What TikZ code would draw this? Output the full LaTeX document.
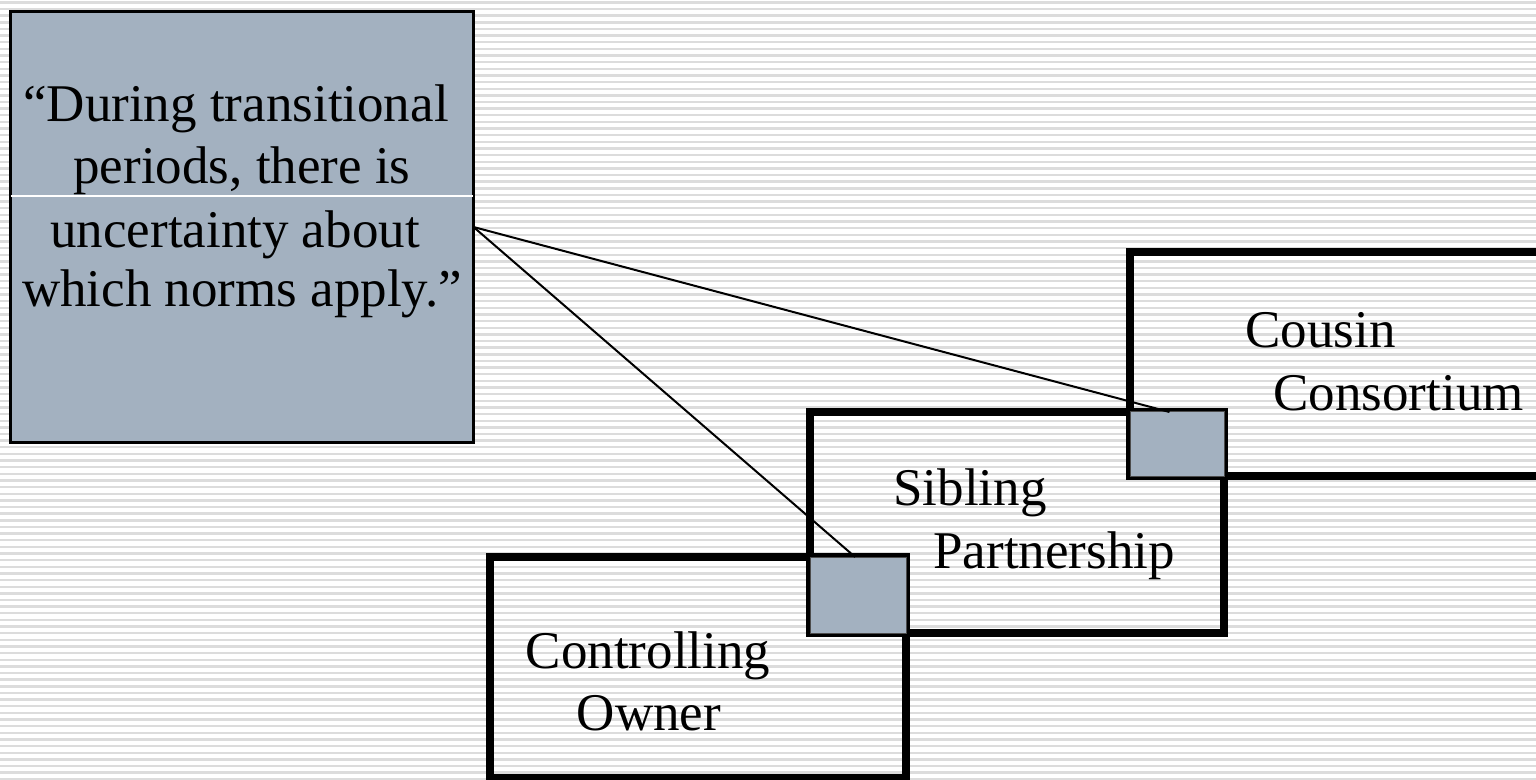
\documentclass[tikz,border=0pt]{standalone}
\usepackage{fontspec}
\setmainfont{Liberation Serif}
\usetikzlibrary{calc,fit}
\definecolor{slate}{RGB}{163,177,192}
\definecolor{stripegray}{RGB}{220,220,220}
\begin{document}
\begin{tikzpicture}[x=0.5pt,y=-0.5pt,
  stage/.style={draw=black, line width=3.8pt, inner sep=0pt, outer sep=0pt, fit=#1},
  overlap/.style={draw=black!70, fill=slate, line width=0.5pt, inner sep=0pt, outer sep=0pt, fit=#1},
  quotebox/.style={draw=black, fill=slate, line width=1.5pt, inner sep=0pt, outer sep=0pt, fit=#1},
  label/.style={font=\fontsize{26.5pt}{31pt}\selectfont, inner sep=0pt, text=black},
  link/.style={draw=black, line width=1pt}]
% canvas
\useasboundingbox (0,0) rectangle (1536,780);
\clip (0,0) rectangle (1536,780);
\fill[white] (0,0) rectangle (1536,780);
% striped backdrop
\foreach \k in {0,...,118}
  \draw[stripegray, line width=1.2pt] (0,{2.4+\k*6.64}) -- (1536,{2.4+\k*6.64});

% quotation panel
\coordinate (q1) at (10,12);
\coordinate (q2) at (473.5,442);
\node[quotebox=(q1)(q2)] (quote) {};
\draw[white, line width=0.6pt] (11,196) -- (472.5,196);

% the three stage frames
\coordinate (o1) at (490,557);
\coordinate (o2) at (906,778);
\node[stage=(o1)(o2)] (owner) {};
\coordinate (s1) at (810,412);
\coordinate (s2) at (1224,633);
\node[stage=(s1)(s2)] (sibling) {};
\coordinate (c1) at (1130,252);
\coordinate (c2) at (1580,476);
\node[stage=(c1)(c2)] (cousin) {};

% transition squares where the frames overlap
\coordinate (t1a) at (810,557);
\coordinate (t1b) at (906,633);
\node[overlap=(t1a)(t1b)] (trans1) {};
\coordinate (t2a) at (1130,412);
\coordinate (t2b) at (1224,476);
\node[overlap=(t2a)(t2b)] (trans2) {};

% connectors
\draw[link] (quote.east) -- ($(trans1.north west)!0.47!(trans1.north east)$);
\draw[link] (quote.east) -- ($(trans2.north west)!0.42!(trans2.north east)$);

% quotation text
\node[label, anchor=base] (ql1) at (236,122) {“During transitional};
\node[label, anchor=base] (ql2) at (242,184) {periods, there is};
\node[label, anchor=base] (ql3) at (235,248) {uncertainty about};
\node[label, anchor=base] (ql4) at (242,307) {which norms apply.”};

% stage labels
\node[label, anchor=base west] (cl1) at (1245,348) {Cousin};
\node[label, anchor=base west] (cl2) at (1273,410) {Consortium};
\node[label, anchor=base west] (sl1) at (893,505) {Sibling};
\node[label, anchor=base west] (sl2) at (933,568) {Partnership};
\node[label, anchor=base] (ol1) at (648,668) {Controlling};
\node[label, anchor=base] (ol2) at (649,730) {Owner};
\end{tikzpicture}
\end{document}
